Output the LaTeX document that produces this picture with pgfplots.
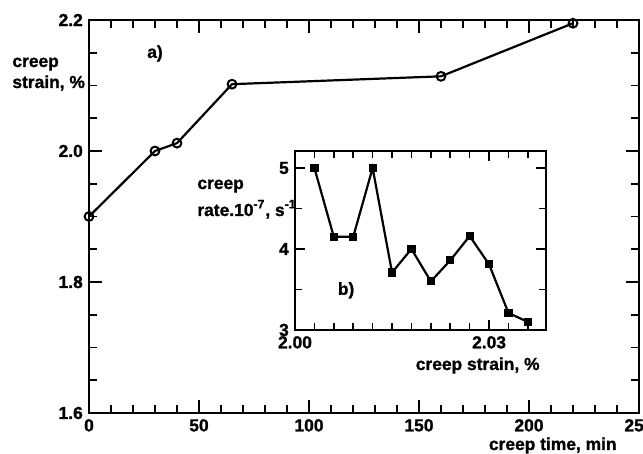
\documentclass[border=0pt]{standalone}
\usepackage{fontspec}
\setmainfont{Liberation Sans}[FakeBold=1.2]
\usepackage{pgfplots}
\pgfplotsset{compat=1.18}
\begin{document}
\fontsize{8.7}{10.4}\selectfont\bfseries
\begin{tikzpicture}
\begin{axis}[
  name=main, at={(0,0)}, anchor=south west,
  scale only axis, width=275pt, height=196.5pt,
  xmin=0, xmax=250, ymin=1.6, ymax=2.2,
  xtick={0,50,...,250}, minor x tick num=4,
  ytick={1.6,1.8,2.0,2.2}, minor y tick num=3,
  tick align=inside,
  major tick length=6.5pt, minor tick length=4pt,
  axis line style={line width=1pt},
  every tick/.append style={black, line width=0.8pt},
  /pgf/number format/assume math mode=true,
  yticklabel style={/pgf/number format/.cd, fixed, fixed zerofill, precision=1},
  xlabel={creep time, min},
  xlabel style={at={(axis description cs:0.96,0)}, anchor=base east, yshift=-18.5pt, inner sep=0pt},
]
\addplot[black, line width=1.1pt, mark=o, mark size=2.2pt, mark options={line width=1pt}]
  coordinates {(0,1.9) (30,2.0) (40,2.012) (65,2.102) (160,2.114) (220,2.195)};
\node at (axis cs:30,2.149) {a)};
\end{axis}
\node[anchor=base west, inner sep=0pt] at (-38.5pt,173pt) {creep};
\node[anchor=base west, inner sep=0pt] at (-38.5pt,162.5pt) {strain, \%};
\begin{axis}[
  at={(103pt,41.5pt)}, anchor=south west,
  scale only axis, width=125.5pt, height=89.5pt,
  xmin=2.0, xmax=2.0388, ymin=3, ymax=5.21,
  xtick={2.00,2.03},
  minor xtick={2.003,2.006,2.009,2.012,2.015,2.018,2.021,2.024,2.027,2.033,2.036},
  ytick={3,4,5}, minor ytick={3.5,4.5},
  scaled x ticks=false, scaled y ticks=false,
  tick align=inside,
  major tick length=5pt, minor tick length=3.5pt,
  axis line style={line width=1pt},
  every tick/.append style={black, line width=0.8pt},
  /pgf/number format/assume math mode=true,
  xticklabel style={/pgf/number format/.cd, fixed, fixed zerofill, precision=2},
  axis background/.style={fill=white},
  xlabel={creep strain, \%},
  xlabel style={at={(axis description cs:0.976,0)}, anchor=base east, yshift=-20pt, inner sep=0pt},
]
\addplot[black, line width=1.1pt, mark=square*, mark size=1.5pt]
  coordinates {(2.003,5.0) (2.006,4.15) (2.009,4.15) (2.012,5.0) (2.015,3.71) (2.018,4.0)
               (2.021,3.6) (2.024,3.86) (2.027,4.16) (2.030,3.81) (2.033,3.21) (2.036,3.1)};
\node at (axis cs:2.0079,3.49) {b)};
\end{axis}
\node[anchor=base west, inner sep=0pt] at (54pt,112pt) {creep};
\node[anchor=base west, inner sep=0pt] at (54pt,98.5pt) {rate.10\textsuperscript{-7}, s\textsuperscript{-1}};
\pgfresetboundingbox
\path[use as bounding box] (-44.5pt,-20.5pt) rectangle (277pt,206.5pt);
\end{tikzpicture}
\end{document}
